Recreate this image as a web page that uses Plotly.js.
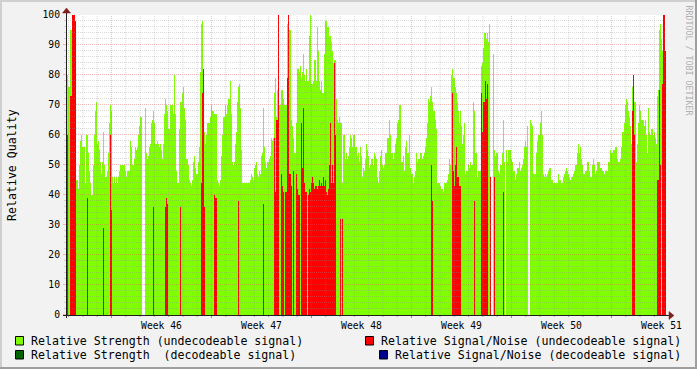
<!DOCTYPE html>
<html><head><meta charset="utf-8">
<script src="https://cdn.plot.ly/plotly-3.0.1.min.js"></script>
<style>html,body{margin:0;padding:0;background:#f2f2f2;}#chart{width:697px;height:369px;}</style>
</head><body><div id="chart"></div>
<script>
// ---- data ----
const SAMPLE_HOURS = 1.68;          // one RRD sample
const RANGE_HOURS = [0, 1008];       // 6 weeks shown
const WEEK_LABELS = ["Week 46", "Week 47", "Week 48", "Week 49", "Week 50", "Week 51"];
const WEEK_LABEL_HOURS = [160.4, 328.4, 496.4, 664.4, 832.4, 1000.4];
const WEEK_START_HOURS = [76.4, 244.4, 412.4, 580.4, 748.4, 916.4];
const DAY_HOURS = 24;

// Relative Strength (undecodeable signal), one value per sample
const strengthUndecodeable = [
80,80,76,76,95,95,97,97,97,97, 45,45,42,50,58,60,56,56,56,44,
60,60,54,48,44,40,40,50,60,68, 71,57,58,55,51,47,51,61,50,46,
46,48,54,64,70,68,46,44,46,44, 46,44,46,48,50,50,50,50,50,48,
46,48,48,48,58,56,50,50,52,56, 55,56,60,63,66,66,null,null,null,69,
54,52,53,56,57,64,65,68,64,57, 57,58,57,56,57,55,52,57,67,72,
70,68,62,62,70,70,70,67,80,67, 48,44,44,62,71,71,74,76,69,65,
52,52,50,45,44,43,45,51,53,49, 47,47,51,56,81,97,98,82,61,57,
60,64,64,64,66,70,68,68,67,67, 67,45,44,43,45,53,60,66,66,70,
67,70,72,72,78,67,51,50,51,57, 61,71,76,77,69,55,44,44,44,44,
44,44,44,44,45,47,46,45,49,50, 51,47,46,48,47,53,54,69,56,51,
49,51,51,52,53,59,58,59,74,79, 66,75,75,70,70,75,75,72,70,70,
70,97,100,95,95,65,63,59,54,54, 64,82,82,81,83,79,81,87,80,78,
82,78,78,93,100,77,77,78,85,85, 78,96,88,78,75,78,74,74,87,98,
98,96,96,93,93,91,88,84,85,85, 72,65,64,66,64,64,44,60,60,52,
54,52,53,56,60,59,56,60,60,56, 56,53,54,51,56,53,46,49,48,52,
57,55,53,49,50,52,52,50,54,53, 52,46,44,48,53,55,50,49,50,54,
54,59,59,65,60,54,54,52,54,57, 59,64,65,70,70,51,51,53,48,56,
58,54,54,60,49,47,47,44,46,48, 54,51,52,52,54,54,52,53,54,56,
59,64,72,71,73,76,71,68,68,65, 62,44,44,44,43,42,42,41,44,44,
44,45,47,52,50,80,82,79,79,76, 74,71,68,64,68,63,57,60,64,47,
48,48,50,49,51,50,50,71,68,54, 54,46,48,48,48,83,84,89,94,94,
92,94,91,97,null,null,null,87,55,53, 54,54,48,47,50,50,54,65,51,null,
55,51,55,55,55,52,51,48,48,45, 47,49,49,51,48,49,50,52,56,58,
56,63,null,null,65,64,63,47,47,47, 54,58,60,60,64,68,60,47,46,47,
46,47,48,49,49,45,45,44,44,44, 44,44,47,45,45,44,44,46,47,48,
49,48,47,46,45,46,46,47,48,50, 50,54,57,54,56,52,50,47,47,48,
48,51,51,48,46,46,50,52,50,47, 48,51,51,51,49,49,48,48,47,48,
48,48,51,51,55,54,54,55,55,56, 56,52,51,51,52,56,61,61,64,70,
72,71,68,66,63,57,76,78,71,71, 51,57,64,70,68,65,65,65,63,65,
60,54,69,61,60,62,62,60,61,59, 57,73,75,95,97,92,88,100,100,78
];

// Relative Signal/Noise (undecodeable signal): sample number and value
const snrSample = [0,1,4,5,6,7,8,9,21,37,44,45,87,99,100,101,114,135,136,137,138,148,149,150,172,197,
208,209,210,211,212,215,216,217,219,220,221,222,223,224,225,227,230,231,232,233,235,236,237,238,239,240,
242,243,244,245,246,247,248,249,250,251,252,253,254,255,256,257,258,259,260,261,262,263,264,265,266,267,268,269,
274,276,365,366,386,387,388,389,390,391,392,393,394,408,415,416,417,418,419,420,421,424,428,437,
566,567,568,591,592,593,594,596,597,598,599];
const snrUndecodeable = [60,60,73,73,100,100,100,98,39,29,60,35,36,36,39,37,36,44,74,82,36,40,39,39,38,37,
59,41,65,65,100,47,43,41,41,41,79,100,47,47,43,48,47,42,40,40,64,49,69,44,41,41,
40,42,41,44,46,44,42,43,43,42,43,45,43,44,43,46,43,45,41,40,42,50,64,44,50,44,84,60,
32,32,50,38,74,48,43,50,56,46,46,43,43,38,74,61,71,71,78,72,77,46,46,41,
68,80,60,45,45,75,50,77,100,100,88];

// decodeable signal series: no samples in this period
const strengthDecodeable = [];
const snrDecodeable = [];

const LEGEND = [
  {text: "Relative Strength (undecodeable signal)", color: "#80ff00", col: 0, row: 0},
  {text: "Relative Signal/Noise (undecodeable signal)", color: "#ff0000", col: 1, row: 0},
  {text: "Relative Strength  (decodeable signal)", color: "#006400", col: 0, row: 1},
  {text: "Relative Signal/Noise (decodeable signal)", color: "#00008c", col: 2, row: 1}
];

// ---- geometry helpers (pixel -> paper) ----
const L = 66, R = 666, T = 15, B = 315;
const px = x => (x - L) / (R - L);
const py = y => (B - y) / (B - T);

const sampleTime = i => i * SAMPLE_HOURS;
const mono = "DejaVu Sans Mono, monospace";

const traces = [
  {type: "bar", x: strengthUndecodeable.map((v, i) => sampleTime(i)), y: strengthUndecodeable,
   width: SAMPLE_HOURS, offset: 0, marker: {color: "#80ff00", line: {width: 0}}, hoverinfo: "skip"},
  {type: "bar", x: snrSample.map(sampleTime), y: snrUndecodeable,
   width: SAMPLE_HOURS, offset: 0, marker: {color: "#ff0000", line: {width: 0}}, hoverinfo: "skip"},
  {type: "bar", x: strengthDecodeable.map(sampleTime), y: strengthDecodeable,
   width: SAMPLE_HOURS, offset: 0, marker: {color: "#006400"}},
  {type: "bar", x: snrDecodeable.map(sampleTime), y: snrDecodeable,
   width: SAMPLE_HOURS, offset: 0, marker: {color: "#00008c"}}
];

const shapes = [];
const MINOR = "rgba(143,143,143,0.34)";
const MAJOR = "rgba(222,79,79,0.38)";
const DASH = "1px,1px";
// horizontal grid
for (let v = 2; v <= 100; v += 2) {
  const major = v % 10 === 0;
  const yv = v + 1/6;
  shapes.push({type: "line", xref: "paper", yref: "y", x0: 0, x1: 1, y0: yv, y1: yv,
    line: {color: major ? MAJOR : MINOR, width: 1, dash: DASH}, layer: "above"});
}
for (let v = 0; v <= 100; v += 2) {
  const major = v % 10 === 0;
  const yv = v + 1/6;
  shapes.push({type: "line", xref: "paper", yref: "y", x0: px(major ? 63 : 64), x1: px(66), y0: yv, y1: yv,
    line: {color: major ? MAJOR : MINOR, width: 1}, layer: "above"});
}
// vertical grid
const firstDay = WEEK_START_HOURS[0] - 3 * DAY_HOURS;
for (let h = firstDay; h < RANGE_HOURS[1]; h += DAY_HOURS) {
  const major = WEEK_START_HOURS.some(w => Math.abs(w - h) < 0.01);
  shapes.push({type: "line", xref: "x", yref: "paper", x0: h, x1: h, y0: 0, y1: 1,
    line: {color: major ? MAJOR : MINOR, width: 1, dash: DASH}, layer: "above"});
  shapes.push({type: "line", xref: "x", yref: "paper", x0: h, x1: h, y0: py(315), y1: py(major ? 318 : 317),
    line: {color: major ? "rgba(222,79,79,0.8)" : "rgba(143,143,143,0.8)", width: 1}, layer: "above"});
}
// axes + arrows
const AXIS = "#1f1f1f", ARROW = "#7f1f1f";
shapes.push({type: "line", xref: "paper", yref: "paper", x0: px(63), x1: px(669), y0: py(315.5), y1: py(315.5),
  line: {color: AXIS, width: 1}, layer: "above"});
shapes.push({type: "line", xref: "paper", yref: "paper", x0: px(66.5), x1: px(66.5), y0: py(318), y1: py(12),
  line: {color: AXIS, width: 1}, layer: "above"});
shapes.push({type: "path", xref: "paper", yref: "paper",
  path: `M${px(669)},${py(311.5)} L${px(669)},${py(319.5)} L${px(674)},${py(315.5)} Z`,
  fillcolor: ARROW, line: {color: ARROW, width: 0.5}, layer: "above"});
shapes.push({type: "path", xref: "paper", yref: "paper",
  path: `M${px(62.5)},${py(13)} L${px(70.5)},${py(13)} L${px(66.5)},${py(8)} Z`,
  fillcolor: ARROW, line: {color: ARROW, width: 0.5}, layer: "above"});
// frame shading
shapes.push({type: "rect", xref: "paper", yref: "paper", x0: px(0), x1: px(697), y0: py(0), y1: py(2),
  fillcolor: "#cfcfcf", line: {width: 0}, layer: "below"});
shapes.push({type: "rect", xref: "paper", yref: "paper", x0: px(0), x1: px(2), y0: py(0), y1: py(369),
  fillcolor: "#cfcfcf", line: {width: 0}, layer: "below"});
shapes.push({type: "rect", xref: "paper", yref: "paper", x0: px(0), x1: px(697), y0: py(367), y1: py(369),
  fillcolor: "#9e9e9e", line: {width: 0}, layer: "below"});
shapes.push({type: "rect", xref: "paper", yref: "paper", x0: px(695), x1: px(697), y0: py(0), y1: py(369),
  fillcolor: "#9e9e9e", line: {width: 0}, layer: "below"});

// legend
const annotations = [];
const boxX = [15.5, 365.5, 379.5];
const textX = [30, 380, 394];
const rowY = [341, 355];
LEGEND.forEach(e => {
  const bx = boxX[e.col], y = rowY[e.row];
  shapes.push({type: "rect", xref: "paper", yref: "paper", x0: px(bx), x1: px(bx + 8), y0: py(y - 4.5), y1: py(y + 4),
    fillcolor: e.color, line: {color: "#000", width: 1}});
  annotations.push({xref: "paper", yref: "paper", x: px(textX[e.col]), y: py(y), xanchor: "left", yanchor: "middle",
    text: e.text.replace(/ /g, "&nbsp;"), showarrow: false, borderpad: 0, font: {family: mono, size: 11.6, color: "#000"}});
});
annotations.push({xref: "paper", yref: "paper", x: px(12), y: 0.5, xanchor: "center", yanchor: "middle",
  text: "Relative Quality", textangle: -90, showarrow: false, borderpad: 0, font: {family: mono, size: 11.6, color: "#000"}});
annotations.push({xref: "paper", yref: "paper", x: px(688.5), y: py(60), xanchor: "center", yanchor: "middle",
  text: "RRDTOOL / TOBI OETIKER", textangle: 90, showarrow: false, borderpad: 0, font: {family: mono, size: 8.3, color: "#b0b0b0"}});

const layout = {
  width: 697, height: 369,
  margin: {l: L, r: 697 - R, t: T, b: 369 - B, pad: 0},
  paper_bgcolor: "#f2f2f2", plot_bgcolor: "#ffffff",
  barmode: "overlay", bargap: 0, showlegend: false,
  xaxis: {range: RANGE_HOURS, tickvals: WEEK_LABEL_HOURS, ticktext: WEEK_LABELS, showgrid: false, zeroline: false,
    showline: false, ticks: "", ticklabelstandoff: 3, tickfont: {family: mono, size: 9.7, color: "#000"}, fixedrange: true},
  yaxis: {range: [0, 100], tickvals: [0,10,20,30,40,50,60,70,80,90,100], showgrid: false, zeroline: false,
    showline: false, ticks: "", ticklabelstandoff: 5, tickfont: {family: mono, size: 9.7, color: "#000"}, fixedrange: true},
  shapes: shapes, annotations: annotations
};
Plotly.newPlot("chart", traces, layout, {displayModeBar: false, staticPlot: true});
</script></body></html>
